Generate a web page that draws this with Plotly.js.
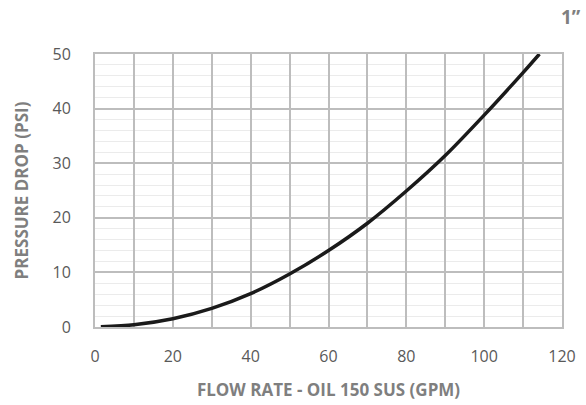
<!DOCTYPE html>
<html>
<head>
<meta charset="utf-8">
<script src="https://cdn.plot.ly/plotly-3.0.1.min.js"></script>
<style>html,body{margin:0;padding:0;background:#fff;}#chart{width:586px;height:405px;}</style>
</head>
<body>
<div id="chart"></div>
<script>
const flowGPM = [1.5, 10, 20, 30, 40, 50, 60, 70, 80, 90, 100, 110, 114.2];
const pressurePSI = [0.05, 0.4, 1.5, 3.4, 6.1, 9.7, 14.0, 19.0, 24.9, 31.4, 38.8, 46.6, 50.0];
const xTickVals = [0, 10, 20, 30, 40, 50, 60, 70, 80, 90, 100, 110, 120];
const xTickText = ['0', '', '20', '', '40', '', '60', '', '80', '', '100', '', '120'];
const xTitle = 'FLOW RATE - OIL 150 SUS (GPM)';
const yTitle = 'PRESSURE DROP (PSI)';
const sizeLabel = '1\u201D';

const fontFam = '"Open Sans", Lato, sans-serif';
const grey = '#7f7f7f';
const tickGrey = '#595959';
const gridGrey = '#bdbdbd';

Plotly.newPlot('chart', [{
  x: flowGPM, y: pressurePSI, type: 'scatter', mode: 'lines',
  line: {color: '#1a1a1a', width: 3.5, shape: 'spline', smoothing: 0.8},
  hoverinfo: 'skip'
}], {
  width: 586, height: 405,
  margin: {l: 95, r: 24, t: 54, b: 78},
  paper_bgcolor: '#fff', plot_bgcolor: '#fff',
  showlegend: false,
  font: {family: fontFam, color: tickGrey, size: 16},
  xaxis: {
    range: [0, 120], tickmode: 'array', tickvals: xTickVals, ticktext: xTickText,
    showgrid: true, gridcolor: gridGrey, gridwidth: 2,
    zeroline: false, showline: true, linecolor: gridGrey, linewidth: 2, mirror: true,
    ticks: '', ticklabelstandoff: 14,
    tickfont: {family: fontFam, size: 16, color: tickGrey},
    title: {text: xTitle, font: {family: fontFam, size: 17, color: grey, weight: 'bold'}, standoff: 18}
  },
  yaxis: {
    range: [0, 50], dtick: 10, tick0: 0,
    showgrid: true, gridcolor: gridGrey, gridwidth: 2,
    minor: {dtick: 2, showgrid: true, gridcolor: '#ebebeb', gridwidth: 1},
    zeroline: false, showline: true, linecolor: gridGrey, linewidth: 2, mirror: true,
    ticks: '', ticklabelstandoff: 19,
    tickfont: {family: fontFam, size: 16, color: tickGrey},
    title: {text: yTitle, font: {family: fontFam, size: 17, color: grey, weight: 'bold'}, standoff: 20}
  },
  annotations: [{
    text: sizeLabel, xref: 'paper', yref: 'paper', x: 1.045, y: 1.134,
    xanchor: 'right', yanchor: 'middle', showarrow: false,
    font: {family: fontFam, size: 19, color: grey, weight: 'bold'}
  }]
}, {displayModeBar: false, staticPlot: true});
</script>
</body>
</html>
